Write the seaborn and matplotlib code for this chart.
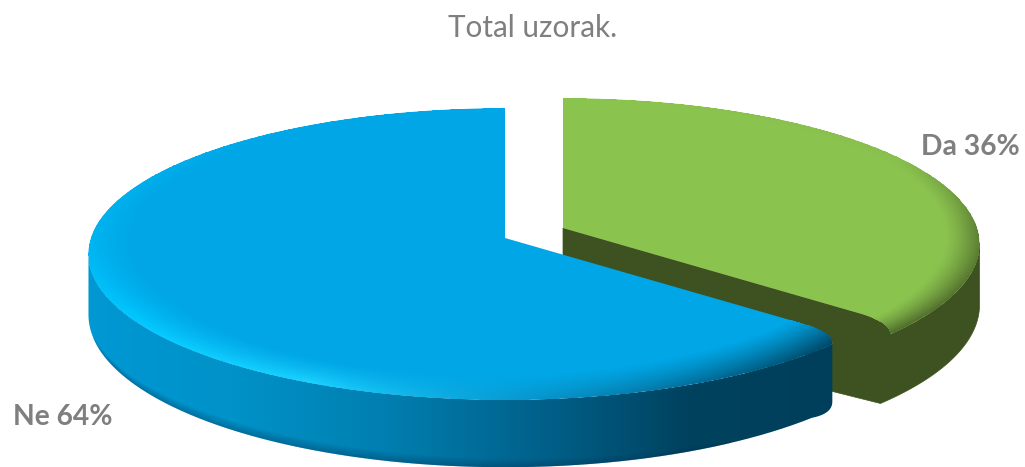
import matplotlib
matplotlib.use('Agg')
import matplotlib.pyplot as plt
from matplotlib.colors import to_rgb
from matplotlib.path import Path
from matplotlib.patches import PathPatch
import numpy as np
import seaborn as sns

labels = ['Da', 'Ne']
shares = [36, 64]
title = 'Total uzorak.'

sns.set_theme(style='white')
plt.rcParams['font.family'] = ['Lato', 'DejaVu Sans']

GREY = '#7f7f7f'
BLUE = '#00a6e6'
GREEN = '#8bc34f'
DARK_GREEN = '#3d5220'

# perspective of the pie plane
RX, RY, K = 414, 144, 0.11
APEX = {'Da': (563, 228), 'Ne': (505, 238)}
TIP_EXTRA = 3.4   # arc runs this many degrees past the cut before it rounds off
WALL = 60

# rim shading, angle is clockwise from 12 o'clock
RIM = {
    'Ne': ([129, 150, 180, 205, 240, 270, 320, 360],
           ['#003f5c', '#00648c', '#0a9bd2', '#1ad2ff', '#00c8ff', '#00b4f0', '#00a9e8', '#00a6e6'],
           [0.16, 0.16, 0.14, 0.13, 0.13, 0.11, 0.04, 0.02]),
    'Da': ([0, 60, 90, 110, 130],
           ['#8bc34f', '#87bd4d', '#5f8236', '#56752f', '#4f6c2c'],
           [0.02, 0.05, 0.08, 0.09, 0.09]),
}


def project(x, y, apex):
    w = 1 + K * y
    return apex[0] + RX * x / w, apex[1] - RY * y / w


def on_arc(deg, apex):
    t = np.radians(deg)
    return project(np.cos(t), np.sin(t), apex)


def bezier(a, c, b, n=24):
    u = np.linspace(0, 1, n)[:, None]
    pts = (1 - u) ** 2 * np.array(a) + 2 * u * (1 - u) * np.array(c) + u ** 2 * np.array(b)
    return pts[:, 0], pts[:, 1]


def tip_curve(cut, apex, radial=0.87):
    # rounded corner, from the straight cut edge to the end of the arc
    ex, ey = on_arc(cut, apex)
    b = on_arc(cut - TIP_EXTRA, apex)
    slope = (ey - apex[1]) / (ex - apex[0])
    px, py = project(radial * np.cos(np.radians(cut)), radial * np.sin(np.radians(cut)), apex)
    c = (b[0], apex[1] + slope * (b[0] - apex[0]))
    return bezier((px, py), c, b)


fig = plt.figure(figsize=(10.25, 4.67), dpi=100)
pie_ax = fig.add_axes([0, 0, 0.1, 0.1])
wedges, _ = pie_ax.pie(shares, labels=None, startangle=90, counterclock=False)
pie_ax.set_visible(False)
da, ne = wedges
cut = da.theta1

ax = fig.add_axes([0, 0, 1, 1])


def closed(xs, ys):
    return Path(np.column_stack([np.r_[xs, xs[0]], np.r_[ys, ys[0]]]))


def draw_rim(wedge, name, clip):
    stops, cols, widths = RIM[name]
    if name == 'Da':
        t = np.linspace(wedge.theta1 - TIP_EXTRA - 1, wedge.theta2, 500)
    else:
        t = np.linspace(wedge.theta1, wedge.theta2, 700)
        t = np.r_[t, np.linspace(wedge.theta2, wedge.theta2 - TIP_EXTRA - 1, 20)[1:]]
    cw = 90 - t
    s = np.linspace(0, 1, 40)
    T, S = np.meshgrid(t, s)
    width = np.interp(cw, stops, widths)
    R = 1 - width[None, :] * (1 - S)
    X, Y = project(R * np.cos(np.radians(T)), R * np.sin(np.radians(T)), APEX[name])
    rgb_rim = np.array([to_rgb(c) for c in cols])
    rim = np.stack([np.interp(cw, stops, rgb_rim[:, i]) for i in range(3)], axis=-1)
    base = np.array(to_rgb(BLUE if name == 'Ne' else GREEN))
    mix = (0.5 * (S[:-1, :-1] + S[1:, 1:])) ** 1.3
    C = base * (1 - mix[..., None]) + rim[None, :-1, :] * mix[..., None]
    mesh = ax.pcolormesh(X, Y, np.clip(C, 0, 1), shading='flat', zorder=clip.get_zorder() + 0.1)
    mesh.set_clip_path(clip)


# Da slice: dark body first, then top
apex = APEX['Da']
cx, cy = tip_curve(cut, apex)
ax_, ay_ = on_arc(np.linspace(cut - TIP_EXTRA, da.theta2, 300), apex)
tx, ty = np.r_[cx, ax_], np.r_[cy, ay_]
# bottom edge runs a little past the cut, as in the reference
tb = np.linspace(da.theta2, cut - 5.4, 400)
bx, by = on_arc(tb, apex)
by = by + WALL / (1 + K * np.sin(np.radians(tb)))
# start the body at the widest point so the two arcs do not cross
i_top = np.argmax(ax_)
i_bot = np.argmax(bx)
body_x = np.r_[apex[0], cx, ax_[:i_top + 1], bx[i_bot:], apex[0]]
body_y = np.r_[apex[1], cy, ay_[:i_top + 1], by[i_bot:], apex[1] + 96]
ax.add_patch(PathPatch(closed(body_x, body_y), fc=DARK_GREEN, ec=DARK_GREEN, lw=0.5, zorder=1))
top = PathPatch(closed(np.r_[apex[0], tx], np.r_[apex[1], ty]), fc=GREEN, ec='none', zorder=2)
ax.add_patch(top)
draw_rim(da, 'Da', top)

# Ne slice
apex = APEX['Ne']
cx, cy = tip_curve(cut, apex)
th = np.linspace(ne.theta1, cut - TIP_EXTRA, 500)
ax_, ay_ = on_arc(th, apex)
tx, ty = np.r_[ax_, cx[::-1]], np.r_[ay_, cy[::-1]]
# wall: arc on top, arc below, small rounded corner at the right end
th_b = np.linspace(ne.theta1, cut - TIP_EXTRA - 4, 500)
bx, by = on_arc(th_b, apex)
hb = WALL / (1 + K * np.sin(np.radians(th_b)))
by = by + hb
xr = ax_[-1]
rx, ry = bezier((bx[-1], by[-1]), (xr, by[-1] - 4), (xr, by[-1] - 16), 12)
i_top = np.argmin(ax_)
i_bot = np.argmin(bx)
wall_x = np.r_[ax_[i_top:], rx[::-1], bx[i_bot:][::-1]]
wall_y = np.r_[ay_[i_top:], ry[::-1], by[i_bot:][::-1]]
wall = PathPatch(closed(wall_x, wall_y), fc='none', ec='none', zorder=3)
ax.add_patch(wall)
wall_cols = sns.blend_palette(['#0098d4', '#0092c8', '#007fb0', '#00628c', '#00425f', '#003f5c'], 256)
img = ax.imshow(np.array(wall_cols)[None, :, :], extent=(80, 840, 475, 240), aspect='auto', zorder=3)
img.set_clip_path(wall)
# darker strip along the bottom of the wall, tapered at both ends
keep = (th_b > -165) & (th_b < -60)
taper = np.sin(np.pi * (th_b[keep] + 165) / 105) ** 0.5
for lo in np.linspace(0.86, 0.98, 7):
    sx, sy, hk = bx[keep], (by - hb)[keep], hb[keep]
    ax.fill(np.r_[sx, sx[::-1]], np.r_[sy + hk * (1 - (1 - lo) * taper), (sy + hk)[::-1]],
            color='#003a5c', alpha=0.06, lw=0, zorder=3.2)
top = PathPatch(closed(np.r_[apex[0], tx], np.r_[apex[1], ty]), fc=BLUE, ec='none', zorder=4)
ax.add_patch(top)
draw_rim(ne, 'Ne', top)

ax.set_xlim(0, 1025)
ax.set_ylim(467, 0)
ax.axis('off')

ax.text(533, 28, title, color=GREY, fontsize=21.3, ha='center', va='center', zorder=6)
ax.text(970, 147, f'{labels[0]} {shares[0]}%', color=GREY, fontsize=20.3, fontweight='bold',
        ha='center', va='center', zorder=6)
ax.text(63, 417, f'{labels[1]} {shares[1]}%', color=GREY, fontsize=20.3, fontweight='bold',
        ha='center', va='center', zorder=6)

fig.savefig('out.png', dpi=100, facecolor='white')
